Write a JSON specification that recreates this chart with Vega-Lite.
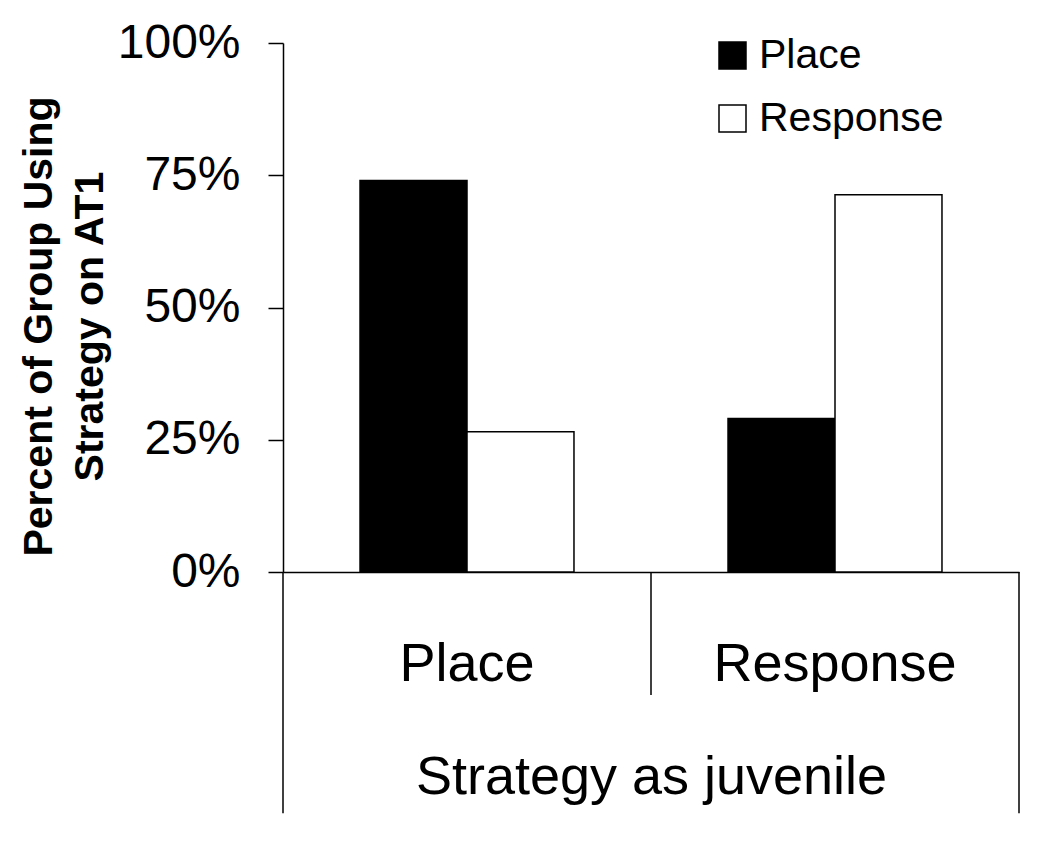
{
  "$schema": "https://vega.github.io/schema/vega-lite/v6.json",
  "width": 736,
  "height": 529,
  "autosize": {"type": "none"},
  "padding": {"left": 283, "top": 43, "right": 31, "bottom": 274},
  "background": "white",
  "config": {"view": {"stroke": null}, "font": "Liberation Sans"},
  "data": {"values": [
    {"juvenile": "Place", "at1": "Place", "pct": 0.74},
    {"juvenile": "Place", "at1": "Response", "pct": 0.265},
    {"juvenile": "Response", "at1": "Place", "pct": 0.29},
    {"juvenile": "Response", "at1": "Response", "pct": 0.713}
  ]},
  "layer": [
    {
      "mark": {"type": "bar", "stroke": "black", "strokeWidth": 1.5},
      "encoding": {
        "x": {
          "field": "juvenile", "type": "nominal", "sort": ["Place", "Response"],
          "scale": {"paddingInner": 0, "paddingOuter": 0},
          "title": "Strategy as juvenile",
          "axis": {
            "labelAngle": 0, "labelFontSize": 54, "labelColor": "black", "labelLimit": 0,
            "ticks": false, "tickSize": 0, "labelPadding": 108, "labelBaseline": "alphabetic",
            "domainColor": "black", "domainWidth": 1.5,
            "titleFontSize": 54, "titleFontWeight": "normal", "titleColor": "black",
            "titleY": 221, "titleBaseline": "alphabetic"
          }
        },
        "xOffset": {"field": "at1", "type": "nominal", "sort": ["Place", "Response"], "scale": {"paddingInner": 0, "paddingOuter": 0.72}},
        "y": {
          "field": "pct", "type": "quantitative",
          "scale": {"domain": [0, 1]},
          "axis": {
            "values": [0, 0.25, 0.5, 0.75, 1], "format": ".0%",
            "labelFontSize": 48, "labelColor": "black", "labelBaseline": "middle",
            "tickSize": 15, "tickColor": "black", "tickWidth": 1.5,
            "domainColor": "black", "domainWidth": 1.5, "grid": false,
            "labelPadding": 28, "labelFlush": false,
            "title": ["Percent of Group Using", "Strategy on AT1"],
            "titleFontSize": 41, "titleFontWeight": "bold", "titleColor": "black",
            "titleX": -232, "titleY": 283, "titleAngle": -90, "titleAlign": "center",
            "titleBaseline": "alphabetic", "titleLineHeight": 51
          }
        },
        "color": {
          "field": "at1", "type": "nominal",
          "scale": {"domain": ["Place", "Response"], "range": ["black", "white"]},
          "legend": {
            "title": null, "orient": "none", "legendX": 429, "legendY": -8,
            "symbolType": "square", "symbolSize": 729, "symbolStrokeColor": "black",
            "symbolStrokeWidth": 1.5, "labelFontSize": 41, "labelColor": "black",
            "labelOffset": 6, "rowPadding": 21, "labelLimit": 0
          }
        }
      }
    },
    {
      "data": {"values": [{"juvenile": "Place"}]},
      "mark": {"type": "rule", "color": "black", "strokeWidth": 1.5},
      "encoding": {
        "x": {"field": "juvenile", "type": "nominal", "bandPosition": 0},
        "y": {"datum": 0},
        "y2": {"datum": -0.456}
      }
    },
    {
      "data": {"values": [{"juvenile": "Response"}]},
      "mark": {"type": "rule", "color": "black", "strokeWidth": 1.5},
      "encoding": {
        "x": {"field": "juvenile", "type": "nominal", "bandPosition": 0},
        "y": {"datum": 0},
        "y2": {"datum": -0.2325}
      }
    },
    {
      "data": {"values": [{"juvenile": "Response"}]},
      "mark": {"type": "rule", "color": "black", "strokeWidth": 1.5},
      "encoding": {
        "x": {"field": "juvenile", "type": "nominal", "bandPosition": 1},
        "y": {"datum": 0},
        "y2": {"datum": -0.456}
      }
    }
  ]
}
